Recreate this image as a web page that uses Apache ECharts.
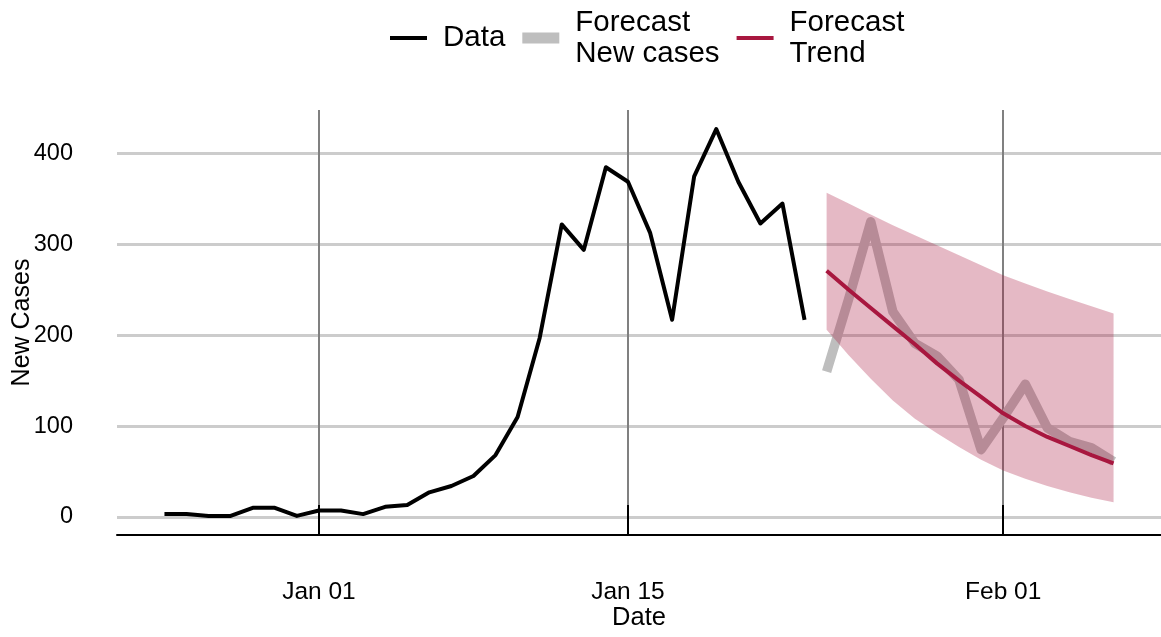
<!DOCTYPE html>
<html>
<head>
<meta charset="utf-8">
<script src="https://cdn.jsdelivr.net/npm/echarts@6/dist/echarts.min.js"></script>
<style>
  html, body { margin: 0; padding: 0; background: #fff; }
  #chart { width: 1161px; height: 637px; }
</style>
</head>
<body>
<div id="chart"></div>
<script>
// observed daily new cases
var dataDates = [
    '2021-12-25', '2021-12-26', '2021-12-27', '2021-12-28', '2021-12-29', '2021-12-30', '2021-12-31',
    '2022-01-01', '2022-01-02', '2022-01-03', '2022-01-04', '2022-01-05', '2022-01-06', '2022-01-07',
    '2022-01-08', '2022-01-09', '2022-01-10', '2022-01-11', '2022-01-12', '2022-01-13', '2022-01-14',
    '2022-01-15', '2022-01-16', '2022-01-17', '2022-01-18', '2022-01-19', '2022-01-20', '2022-01-21',
    '2022-01-22', '2022-01-23'
];
var dataValues = [
    3, 3, 1, 1, 10, 10, 1,
    7, 7, 3, 11, 13, 27, 34,
    45, 68, 110, 197, 322, 294, 385,
    369, 313, 217, 375, 427, 369, 323,
    345, 217
];

// forecast
var forecastDates = [
    '2022-01-24', '2022-01-25', '2022-01-26', '2022-01-27', '2022-01-28', '2022-01-29', '2022-01-30',
    '2022-01-31', '2022-02-01', '2022-02-02', '2022-02-03', '2022-02-04', '2022-02-05', '2022-02-06'
];
var forecastCases = [160, 240, 325, 226, 191, 177, 151, 74, 109, 146, 98, 83, 76, 61];
var forecastTrend = [271, 250, 230, 210, 190, 169, 150, 132, 114, 100, 88, 78, 68, 59];
var forecastLower = [206, 178, 152, 128, 108, 92, 77, 63, 51, 42, 34, 27, 21, 16];
var forecastUpper = [357, 345, 333, 321, 310, 299, 288, 277, 266, 257, 248, 240, 232, 224];

var yTicks = [0, 100, 200, 300, 400];
var xTickDates = ['2022-01-01', '2022-01-15', '2022-02-01'];

var monthNames = ['Jan', 'Feb', 'Mar', 'Apr', 'May', 'Jun', 'Jul', 'Aug', 'Sep', 'Oct', 'Nov', 'Dec'];
var DAY = 24 * 3600 * 1000;
var origin = Date.UTC(2022, 0, 1);

// x axis is a value axis in days since Jan 01
function toDay(s) {
    var p = s.split('-');
    return Math.round((Date.UTC(+p[0], +p[1] - 1, +p[2]) - origin) / DAY);
}

function pairs(dates, values) {
    return dates.map(function(d, i) { return [toDay(d), values[i]]; });
}

var xTicks = xTickDates.map(toDay);
var trendColor = '#A8173F';

var bandData = forecastDates.map(function(d, i) {
    return [toDay(d), forecastLower[i], forecastUpper[i]];
});

// whole ribbon drawn as one polygon: upper edge forward, lower edge back
function renderBand(params, api) {
    if (params.dataIndex !== 0) return;
    var pts = [];
    for (var i = 0; i < bandData.length; i++) {
        pts.push(api.coord([bandData[i][0], bandData[i][2]]));
    }
    for (var j = bandData.length - 1; j >= 0; j--) {
        pts.push(api.coord([bandData[j][0], bandData[j][1]]));
    }
    return {
        type: 'polygon',
        shape: { points: pts },
        style: { fill: trendColor, opacity: 0.3 }
    };
}

var chart = echarts.init(document.getElementById('chart'));

var option = {
    animation: false,
    backgroundColor: '#fff',
    textStyle: { fontFamily: '"Liberation Sans", Arial, sans-serif' },
    grid: { left: 117, right: 0, top: 110, bottom: 102, outerBoundsMode: 'none' },
    legend: {
        data: [
            { name: 'Data', icon: 'path://M0,0H37V4H0Z' },
            { name: 'Forecast\nNew cases', icon: 'path://M0,0H37V11H0Z' },
            { name: 'Forecast\nTrend', icon: 'path://M0,0H37V4H0Z' }
        ],
        left: 390,
        top: 7,
        padding: 0,
        itemWidth: 37,
        itemHeight: 12,
        itemGap: 17,
        textStyle: { fontSize: 29.5, lineHeight: 31, color: '#000', padding: [0, 0, 0, 11] }
    },
    xAxis: {
        type: 'value',
        min: -9.15,
        max: 38.15,
        name: 'Date',
        nameLocation: 'middle',
        nameGap: 70,
        nameMoveOverlap: false,
        nameTextStyle: { fontSize: 25.5, color: '#000' },
        axisLine: { onZero: false, lineStyle: { color: '#000', width: 2 } },
        axisTick: { inside: true, length: 30, customValues: xTicks, lineStyle: { color: '#000', width: 2 } },
        axisLabel: {
            customValues: xTicks,
            margin: 45,
            fontSize: 24.5,
            color: '#000',
            formatter: function(v) {
                var d = new Date(origin + v * DAY);
                var day = d.getUTCDate();
                return monthNames[d.getUTCMonth()] + ' ' + (day < 10 ? '0' + day : day);
            }
        },
        splitLine: { show: true, lineStyle: { color: '#808080', width: 2 } }
    },
    yAxis: {
        type: 'value',
        min: -20,
        max: 448,
        name: 'New Cases',
        nameLocation: 'middle',
        nameGap: 82,
        nameMoveOverlap: false,
        nameTextStyle: { fontSize: 25, color: '#000' },
        axisLine: { show: false },
        axisTick: { show: false, customValues: yTicks },
        axisLabel: { customValues: yTicks, margin: 44, fontSize: 23.5, color: '#000' },
        splitLine: { show: true, lineStyle: { color: '#cccccc', width: 3 } }
    },
    series: [
        {
            name: 'Data',
            type: 'line',
            z: 2,
            data: pairs(dataDates, dataValues),
            symbol: 'none',
            color: '#000',
            lineStyle: { color: '#000', width: 4, join: 'round' }
        },
        {
            name: 'Forecast\nNew cases',
            type: 'line',
            z: 2,
            data: pairs(forecastDates, forecastCases),
            symbol: 'none',
            color: '#bebebe',
            lineStyle: { color: '#bebebe', width: 9.5, join: 'round' }
        },
        {
            name: 'band',
            type: 'custom',
            z: 3,
            silent: true,
            data: bandData,
            encode: { x: 0, y: [1, 2] },
            renderItem: renderBand
        },
        {
            name: 'Forecast\nTrend',
            type: 'line',
            z: 4,
            data: pairs(forecastDates, forecastTrend),
            symbol: 'none',
            color: trendColor,
            lineStyle: { color: trendColor, width: 4, join: 'round' }
        }
    ]
};

chart.setOption(option);
</script>
</body>
</html>
